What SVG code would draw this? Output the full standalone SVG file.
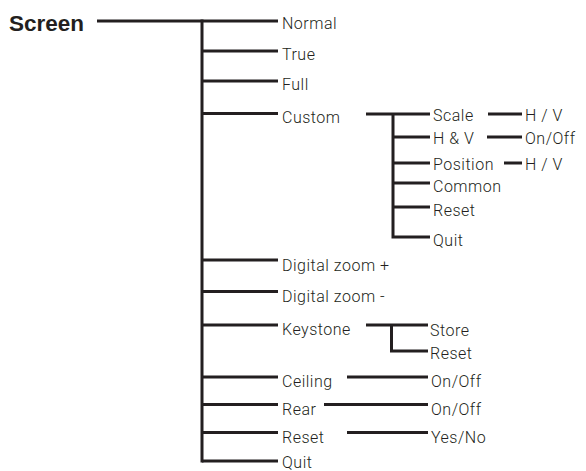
<svg xmlns="http://www.w3.org/2000/svg" width="586" height="471" viewBox="0 0 586 471">
<style>
.t{font-family:Roboto,"Liberation Sans",Arial,sans-serif;font-weight:300;font-size:16px;fill:#231f20;letter-spacing:0.5px}
.h{font-family:"Liberation Sans",Arial,sans-serif;font-size:22.5px;font-weight:bold;fill:#231f20}
.c{stroke:#231f20;stroke-width:3;fill:none}
</style>
<rect width="586" height="471" fill="#fff"/>
<g id="connectors" class="c">
<path d="M97 21H278"/>
<path d="M202 19.5V462.5"/>
<path d="M202 51H278M202 81H278M202 113.5H278M202 260H278M202 291.5H278M202 325H278M202 377H278M202 404.5H278M202 432.5H278M202 461H278"/>
<path d="M366 114H430M393 112.5V238.5M393 137H430M393 163H430M393 183H430M393 207H430M393 237H430"/>
<path d="M488 114H522M487 137H522M504 163H522"/>
<path d="M366 325H428M391.5 323.5V352.5M391.5 351H428"/>
<path d="M347 377H428M324 404.5H428M347 432.5H428"/>
</g>
<g id="screen"><text class="h" x="9" y="31">Screen</text></g>
<g id="normal"><text class="t" x="282" y="29">Normal</text></g>
<g id="true"><text class="t" x="282" y="60">True</text></g>
<g id="full"><text class="t" x="282" y="89.5">Full</text></g>
<g id="custom"><text class="t" x="282" y="123">Custom</text></g>
<g id="scale"><text class="t" x="433" y="121">Scale</text></g>
<g id="scale-hv"><text class="t" x="525" y="121">H / V</text></g>
<g id="hv"><text class="t" x="433" y="144">H &amp; V</text></g>
<g id="hv-onoff"><text class="t" x="525" y="144">On/Off</text></g>
<g id="position"><text class="t" x="433" y="169.5">Position</text></g>
<g id="position-hv"><text class="t" x="525" y="169.5">H / V</text></g>
<g id="common"><text class="t" x="433" y="191.5">Common</text></g>
<g id="custom-reset"><text class="t" x="433" y="215.5">Reset</text></g>
<g id="custom-quit"><text class="t" x="433" y="245.5">Quit</text></g>
<g id="dzoom-plus"><text class="t" x="282" y="270.5">Digital zoom +</text></g>
<g id="dzoom-minus"><text class="t" x="282" y="301.5">Digital zoom -</text></g>
<g id="keystone"><text class="t" x="282" y="335">Keystone</text></g>
<g id="store"><text class="t" x="430" y="335.5">Store</text></g>
<g id="keystone-reset"><text class="t" x="430" y="358.5">Reset</text></g>
<g id="ceiling"><text class="t" x="282" y="387">Ceiling</text></g>
<g id="ceiling-onoff"><text class="t" x="431" y="387">On/Off</text></g>
<g id="rear"><text class="t" x="282" y="415">Rear</text></g>
<g id="rear-onoff"><text class="t" x="431" y="415">On/Off</text></g>
<g id="reset"><text class="t" x="282" y="443">Reset</text></g>
<g id="yesno"><text class="t" x="431" y="443">Yes/No</text></g>
<g id="quit"><text class="t" x="282" y="468">Quit</text></g>
</svg>
